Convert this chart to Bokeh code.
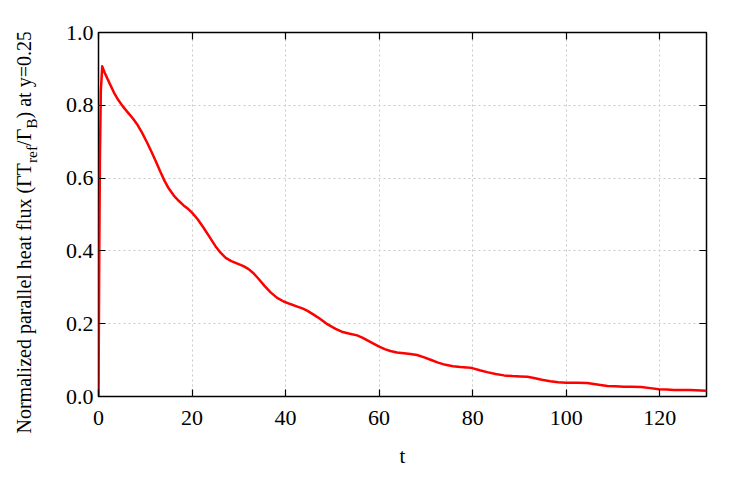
from bokeh.plotting import figure
from bokeh.layouts import row
from bokeh.models import (Range1d, FixedTicker, LinearAxis, Label,
                          PrintfTickFormatter, CustomJSTickFormatter)
from bokeh.embed import file_html
from bokeh.resources import INLINE

# ---- data ----
t = [0, 0.15, 0.3, 0.5, 0.8, 1.3, 2.2, 3.3, 4.2, 5.2, 6.3, 7.4, 8.4, 9.3,
     10.3, 11.3, 12.3, 13.2, 14.1, 15.0, 16.1, 17.2, 18.2, 19.2, 20.0, 21.2,
     22.5, 23.8, 25.0, 26.1, 27.2, 28.4, 29.7, 31.0, 32.1, 33.2, 34.3, 35.5,
     36.8, 38.2, 39.6, 41.0, 42.5, 43.6, 44.6, 46.0, 47.5, 49.0, 50.7, 52.0,
     53.5, 55.3, 56.4, 57.4, 58.7, 59.9, 61.2, 62.4, 63.8, 65.3, 66.7, 68.1,
     69.5, 71.0, 72.6, 74.2, 75.8, 77.4, 78.7, 79.9, 81.5, 83.1, 84.9, 86.7,
     88.5, 90.2, 91.7, 93.1, 94.8, 96.6, 98.3, 100.0, 102.3, 104.5, 106.6,
     108.8, 110.5, 112.3, 114.0, 116.0, 118.0, 119.8, 121.5, 123.0, 126.5,
     130.0]
flux = [0.0, 0.35, 0.65, 0.84, 0.907, 0.89, 0.865, 0.835, 0.815, 0.797,
        0.78, 0.763, 0.745, 0.725, 0.70, 0.673, 0.645, 0.618, 0.593, 0.572,
        0.552, 0.537, 0.525, 0.515, 0.505, 0.487, 0.463, 0.437, 0.413, 0.395,
        0.381, 0.372, 0.365, 0.358, 0.350, 0.338, 0.322, 0.304, 0.286, 0.271,
        0.261, 0.254, 0.247, 0.242, 0.236, 0.225, 0.212, 0.198, 0.186, 0.178,
        0.173, 0.168, 0.162, 0.155, 0.146, 0.138, 0.130, 0.125, 0.121, 0.119,
        0.117, 0.114, 0.108, 0.101, 0.093, 0.087, 0.083, 0.081, 0.080, 0.078,
        0.072, 0.067, 0.062, 0.058, 0.056, 0.055, 0.054, 0.051, 0.046, 0.042,
        0.039, 0.038, 0.038, 0.037, 0.033, 0.029, 0.028, 0.027, 0.027, 0.026,
        0.023, 0.020, 0.019, 0.018, 0.018, 0.016]

x_ticks = [0, 20, 40, 60, 80, 100, 120]
y_ticks = [0.0, 0.2, 0.4, 0.6, 0.8, 1.0]
x_label = "t"
y_label_parts = [("Normalized parallel heat flux (ΓT", False), ("ref", True),
                 ("/Γ", False), ("B", True), (") at y=0.25", False)]

FONT = "Liberation Serif"
TICK_FS = 22
AX_FS = 20.8
LAB_FS = 20
SUB_FS = 15.5

H = 478          # total height
LW = 48          # width of the strip holding the rotated y label
FW, FH = 608, 364

p = figure(frame_width=FW, frame_height=FH, output_backend="svg",
           toolbar_location=None, x_range=Range1d(0, 130),
           y_range=Range1d(0, 1),
           min_border_left=98 - LW, min_border_top=32, min_border_right=40,
           min_border_bottom=82)
p.outline_line_color = "black"
p.outline_line_width = 1.5

for ax, ticks in ((p.xaxis[0], x_ticks), (p.yaxis[0], y_ticks)):
    ax.ticker = FixedTicker(ticks=ticks)
    ax.major_tick_in = 7
    ax.major_tick_out = 0
    ax.minor_tick_line_color = None
    ax.axis_line_color = None
    ax.major_tick_line_color = "black"
    ax.major_tick_line_width = 1.2
    ax.major_label_text_font = FONT
    ax.major_label_text_font_size = f"{TICK_FS}px"
    ax.major_label_text_color = "black"
p.xaxis[0].formatter = PrintfTickFormatter(format="%d")
p.yaxis[0].formatter = PrintfTickFormatter(format="%.1f")
p.xaxis[0].major_label_standoff = 14
p.yaxis[0].major_label_standoff = 5
p.xaxis[0].axis_label = x_label
p.xaxis[0].axis_label_text_font = FONT
p.xaxis[0].axis_label_text_font_style = "normal"
p.xaxis[0].axis_label_text_font_size = f"{AX_FS}px"
p.xaxis[0].axis_label_text_color = "black"
p.xaxis[0].axis_label_standoff = 16

for loc, ticks in (("above", x_ticks), ("right", y_ticks)):
    a = LinearAxis(ticker=FixedTicker(ticks=ticks),
                   formatter=CustomJSTickFormatter(code="return ''"))
    a.major_tick_in = 7
    a.major_tick_out = 0
    a.minor_tick_line_color = None
    a.axis_line_color = None
    a.major_tick_line_width = 1.2
    a.major_label_standoff = 0
    p.add_layout(a, loc)

for g in (p.xgrid[0], p.ygrid[0]):
    g.grid_line_color = "#c8c8c8"
    g.grid_line_dash = "2 3"
    g.grid_line_width = 1
p.xgrid[0].ticker = FixedTicker(ticks=x_ticks)
p.ygrid[0].ticker = FixedTicker(ticks=y_ticks)

p.line(t, flux, line_color="#ff0000", line_width=2.5, line_join="round")

# ---- strip with the rotated y-axis label (with subscripts) ----
lab = figure(frame_width=LW, frame_height=H, output_backend="svg",
             toolbar_location=None,
             x_range=Range1d(0, LW), y_range=Range1d(0, H),
             x_axis_type=None, y_axis_type=None, min_border=0)
lab.title = None
lab.outline_line_color = None
lab.grid.visible = False

# approximate Times advance widths (per 1000 em)
W = {'N': 722, 'o': 500, 'r': 333, 'm': 778, 'a': 444, 'l': 278, 'i': 278,
     'z': 444, 'e': 444, 'd': 500, ' ': 250, 'p': 500, 'h': 500, 't': 278,
     'f': 333, 'u': 500, 'x': 500, '(': 333, 'Γ': 578, 'T': 611, '/': 278,
     'B': 667, ')': 333, 'y': 500, '=': 564, '0': 500, '.': 250, '2': 500,
     '5': 500}

pos = 401.0          # strip y where the label starts (reads upward)
for txt, sub in y_label_parts:
    fs = SUB_FS if sub else LAB_FS
    bx = 31.0 if sub else 23.0
    lab.add_layout(Label(x=bx, y=H - pos, text=txt, angle=1.5707963,
                         text_font=FONT, text_font_size=f"{fs}px",
                         text_color="black", text_align="left",
                         text_baseline="alphabetic"))
    pos -= sum(W.get(c, 500) for c in txt) * fs / 1000.0

layout = row(lab, p)
open("out.html", "w").write(file_html(layout, INLINE))
